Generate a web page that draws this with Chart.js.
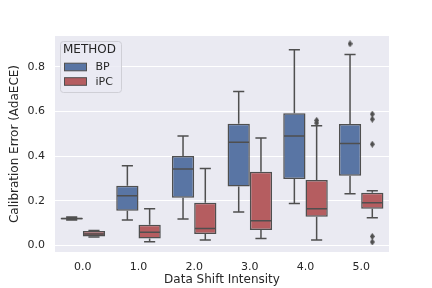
<!DOCTYPE html>
<html>
<head>
<meta charset="utf-8">
<script src="https://cdn.jsdelivr.net/npm/chart.js@4/dist/chart.umd.min.js"></script>
<style>
  html, body { margin: 0; padding: 0; background: #ffffff; }
  #wrap { width: 432px; height: 288px; }
</style>
</head>
<body>
<div id="wrap"><canvas id="chart" width="432" height="288"></canvas></div>
<script>
// Box plot stats, one entry per shift intensity
const shiftLabels = ['0.0', '1.0', '2.0', '3.0', '4.0', '5.0'];
const yTicks = [0.0, 0.2, 0.4, 0.6, 0.8];

// BP
const bpLow = [0.113, 0.113, 0.118, 0.149, 0.187, 0.231];
const bpQ1 = [0.116, 0.155, 0.213, 0.263, 0.297, 0.312];
const bpMedian = [0.120, 0.222, 0.342, 0.462, 0.490, 0.456];
const bpQ3 = [0.124, 0.267, 0.400, 0.545, 0.592, 0.544];
const bpHigh = [0.127, 0.356, 0.490, 0.689, 0.876, 0.855];
const bpOutliers = [[], [], [], [], [], [0.903]];

// iPC
const ipcLow = [0.037, 0.016, 0.024, 0.030, 0.024, 0.124];
const ipcQ1 = [0.040, 0.031, 0.051, 0.069, 0.128, 0.164];
const ipcMedian = [0.051, 0.058, 0.075, 0.110, 0.164, 0.191];
const ipcQ3 = [0.064, 0.092, 0.191, 0.330, 0.293, 0.236];
const ipcHigh = [0.066, 0.164, 0.344, 0.481, 0.536, 0.245];
const ipcOutliers = [[], [], [], [], [0.548, 0.560], [0.015, 0.040, 0.453, 0.565, 0.588]];

const BP_COLOR = '#5975a4';
const IPC_COLOR = '#b55d60';
const LINE_GRAY = '#4f4f4f';
const TEXT = '#262626';

const stats = [
  { low: bpLow, q1: bpQ1, med: bpMedian, q3: bpQ3, high: bpHigh },
  { low: ipcLow, q1: ipcQ1, med: ipcMedian, q3: ipcQ3, high: ipcHigh }
];

// floating bars = the boxes
function boxData(q1, q3) {
  return q1.map((v, i) => ({ x: i, y: [v, q3[i]] }));
}

// outlier points, shifted to sit over their box
function outlierData(list, shift) {
  const pts = [];
  list.forEach((vals, i) => vals.forEach(v => pts.push({ x: i + shift, y: v })));
  return pts;
}

// thin diamond marker like matplotlib 'd'
function thinDiamond(w, h, color) {
  const c = document.createElement('canvas');
  c.width = w;
  c.height = h;
  const g = c.getContext('2d');
  g.fillStyle = color;
  g.beginPath();
  g.moveTo(w / 2, 0);
  g.lineTo(w, h / 2);
  g.lineTo(w / 2, h);
  g.lineTo(0, h / 2);
  g.closePath();
  g.fill();
  return c;
}
const diamond = thinDiamond(5, 7, LINE_GRAY);

// grey plot background
const plotBg = {
  id: 'plotBg',
  beforeDraw(chart) {
    const { ctx, chartArea: a } = chart;
    ctx.save();
    ctx.fillStyle = '#eaeaf2';
    ctx.fillRect(a.left, a.top, a.right - a.left, a.bottom - a.top);
    ctx.restore();
  }
};

// whiskers, caps and medians, placed from each bar element
const boxLines = {
  id: 'boxLines',
  afterDatasetsDraw(chart) {
    const { ctx, scales: { y } } = chart;
    ctx.save();
    ctx.strokeStyle = LINE_GRAY;
    ctx.lineWidth = 1.5;
    stats.forEach((s, d) => {
      const meta = chart.getDatasetMeta(d);
      meta.data.forEach((bar, i) => {
        const cx = bar.x;
        const half = bar.width / 2;
        const yLo = y.getPixelForValue(s.low[i]);
        const yQ1 = y.getPixelForValue(s.q1[i]);
        const yMed = y.getPixelForValue(s.med[i]);
        const yQ3 = y.getPixelForValue(s.q3[i]);
        const yHi = y.getPixelForValue(s.high[i]);
        ctx.beginPath();
        // whiskers
        ctx.moveTo(cx, yQ1); ctx.lineTo(cx, yLo);
        ctx.moveTo(cx, yQ3); ctx.lineTo(cx, yHi);
        // caps
        ctx.moveTo(cx - half / 2, yLo); ctx.lineTo(cx + half / 2, yLo);
        ctx.moveTo(cx - half / 2, yHi); ctx.lineTo(cx + half / 2, yHi);
        // median
        ctx.moveTo(cx - half + 0.75, yMed); ctx.lineTo(cx + half - 0.75, yMed);
        ctx.stroke();
      });
    });
    ctx.restore();
  }
};

// legend box in the upper left of the plot
const methodLegend = {
  id: 'methodLegend',
  afterDraw(chart) {
    const ctx = chart.ctx;
    ctx.save();
    ctx.beginPath();
    ctx.roundRect(60.5, 41.5, 61, 51, 3);
    ctx.fillStyle = 'rgba(234,234,242,0.8)';
    ctx.fill();
    ctx.strokeStyle = '#cfcfd6';
    ctx.lineWidth = 1;
    ctx.stroke();

    ctx.fillStyle = TEXT;
    ctx.textBaseline = 'middle';
    ctx.textAlign = 'center';
    ctx.font = '12px "DejaVu Sans"';
    ctx.fillText('METHOD', 89.5, 50);

    const items = [['BP', BP_COLOR, 67], ['iPC', IPC_COLOR, 81.5]];
    ctx.textAlign = 'left';
    ctx.font = '11px "DejaVu Sans"';
    items.forEach(([label, color, yc]) => {
      ctx.fillStyle = color;
      ctx.fillRect(64.5, yc - 3.8, 22, 7.6);
      ctx.strokeStyle = LINE_GRAY;
      ctx.lineWidth = 1;
      ctx.strokeRect(64.5, yc - 3.8, 22, 7.6);
      ctx.fillStyle = TEXT;
      ctx.fillText(label, 95.5, yc + 0.5);
    });
    ctx.restore();
  }
};

new Chart(document.getElementById('chart'), {
  type: 'bar',
  data: {
    datasets: [
      {
        label: 'BP',
        data: boxData(bpQ1, bpQ3),
        backgroundColor: BP_COLOR,
        borderColor: LINE_GRAY,
        borderWidth: 1.5,
        borderSkipped: false,
        categoryPercentage: 0.8,
        barPercentage: 1.0
      },
      {
        label: 'iPC',
        data: boxData(ipcQ1, ipcQ3),
        backgroundColor: IPC_COLOR,
        borderColor: LINE_GRAY,
        borderWidth: 1.5,
        borderSkipped: false,
        categoryPercentage: 0.8,
        barPercentage: 1.0
      },
      {
        type: 'scatter',
        label: 'outliers',
        data: outlierData(bpOutliers, -0.2).concat(outlierData(ipcOutliers, 0.2)),
        pointStyle: diamond,
        pointRadius: 3
      }
    ]
  },
  options: {
    responsive: false,
    animation: false,
    layout: { padding: { left: 0, right: 43, top: 36, bottom: 0 } },
    plugins: {
      legend: { display: false },
      tooltip: { enabled: false }
    },
    scales: {
      x: {
        type: 'linear',
        min: -0.5,
        max: 5.5,
        offset: false,
        grid: { display: false, offset: false, drawTicks: false, tickLength: 0 },
        border: { display: false },
        afterBuildTicks: s => { s.ticks = shiftLabels.map((_, i) => ({ value: i })); },
        afterFit: s => { s.height = 36; },
        ticks: {
          padding: 9,
          color: TEXT,
          font: { family: 'DejaVu Sans', size: 11 },
          maxRotation: 0,
          callback: v => shiftLabels[v]
        },
        title: {
          display: true,
          text: 'Data Shift Intensity',
          color: TEXT,
          font: { family: 'DejaVu Sans', size: 12 },
          padding: { top: 0, bottom: 1 }
        }
      },
      y: {
        min: -0.03,
        max: 0.938,
        grid: { color: '#ffffff', lineWidth: 1, drawTicks: false, tickLength: 0 },
        border: { display: false },
        afterBuildTicks: s => { s.ticks = yTicks.map(v => ({ value: v })); },
        afterFit: s => { s.width = 55; },
        ticks: {
          padding: 10,
          color: TEXT,
          font: { family: 'DejaVu Sans', size: 11 },
          callback: v => v.toFixed(1)
        },
        title: {
          display: true,
          text: 'Calibration Error (AdaECE)',
          color: TEXT,
          font: { family: 'DejaVu Sans', size: 12 },
          padding: { top: 8, bottom: 0 }
        }
      }
    }
  },
  plugins: [plotBg, boxLines, methodLegend]
});
</script>
</body>
</html>
